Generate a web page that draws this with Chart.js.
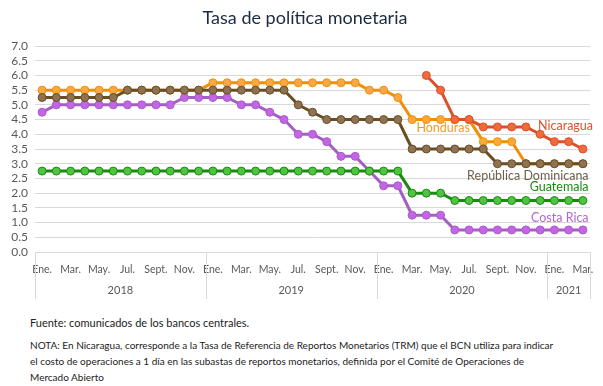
<!DOCTYPE html>
<html lang="es">
<head>
<meta charset="utf-8">
<script src="https://cdn.jsdelivr.net/npm/chart.js@4"></script>
<style>
  body { margin: 0; background: #fff; font-family: "Lato", sans-serif; }
  #wrap { position: relative; width: 603px; height: 302px; }
  #titulo { position: absolute; top: 6px; left: 0; width: 610px; text-align: center;
    font-size: 18px; color: #1B2A41; }
  .nota { margin: 0 0 0 30px; width: 570px; font-size: 10px; color: #222; line-height: 16px; }
  #fuente { margin-top: 13px; margin-bottom: 6px; font-size: 11px; }
</style>
</head>
<body>
<div id="wrap">
  <div id="titulo">Tasa de política monetaria</div>
  <canvas id="myChart" width="603" height="302"></canvas>
</div>
<p class="nota" id="fuente">Fuente: comunicados de los bancos centrales.</p>
<p class="nota">NOTA: En Nicaragua, corresponde a la Tasa de Referencia de Reportos Monetarios (TRM) que el BCN utiliza para indicar<br>el costo de operaciones a 1 día en las subastas de reportos monetarios, definida por el Comité de Operaciones de<br>Mercado Abierto</p>
<script>
const meses = ["Ene.", "Feb.", "Mar.", "Abr.", "May.", "Jun.", "Jul.", "Ago.", "Sept.", "Oct.", "Nov.", "Dic."];
const etiquetas = [...meses, ...meses, ...meses, "Ene.", "Feb.", "Mar."];
const anios = ["2018", "2019", "2020", "2021"];
const inicioAnio = [0, 12, 24, 36, 39];

const honduras = [5.5, 5.5, 5.5, 5.5, 5.5, 5.5, 5.5, 5.5, 5.5, 5.5, 5.5, 5.5,
  5.75, 5.75, 5.75, 5.75, 5.75, 5.75, 5.75, 5.75, 5.75, 5.75, 5.75, 5.5,
  5.5, 5.25, 4.5, 4.5, 4.5, 4.5, 4.5, 3.75, 3.75, 3.75, 3.0, 3.0,
  3.0, 3.0, 3.0];
const repDominicana = [5.25, 5.25, 5.25, 5.25, 5.25, 5.25, 5.5, 5.5, 5.5, 5.5, 5.5, 5.5,
  5.5, 5.5, 5.5, 5.5, 5.5, 5.5, 5.0, 4.75, 4.5, 4.5, 4.5, 4.5,
  4.5, 4.5, 3.5, 3.5, 3.5, 3.5, 3.5, 3.5, 3.0, 3.0, 3.0, 3.0,
  3.0, 3.0, 3.0];
const guatemala = [2.75, 2.75, 2.75, 2.75, 2.75, 2.75, 2.75, 2.75, 2.75, 2.75, 2.75, 2.75,
  2.75, 2.75, 2.75, 2.75, 2.75, 2.75, 2.75, 2.75, 2.75, 2.75, 2.75, 2.75,
  2.75, 2.75, 2.0, 2.0, 2.0, 1.75, 1.75, 1.75, 1.75, 1.75, 1.75, 1.75,
  1.75, 1.75, 1.75];
const costaRica = [4.75, 5.0, 5.0, 5.0, 5.0, 5.0, 5.0, 5.0, 5.0, 5.0, 5.25, 5.25,
  5.25, 5.25, 5.0, 5.0, 4.75, 4.5, 4.0, 4.0, 3.75, 3.25, 3.25, 2.75,
  2.25, 2.25, 1.25, 1.25, 1.25, 0.75, 0.75, 0.75, 0.75, 0.75, 0.75, 0.75,
  0.75, 0.75, 0.75];
const nicaragua = [null, null, null, null, null, null, null, null, null, null, null, null,
  null, null, null, null, null, null, null, null, null, null, null, null,
  null, null, null, 6.0, 5.5, 4.5, 4.5, 4.25, 4.25, 4.25, 4.25, 4.0,
  3.75, 3.75, 3.5];

// nombre de cada serie junto a su linea: [texto, indice, valor, alineacion, color]
const nombres = [
  ["Nicaragua", 34.85, 4.27, "left", "#D9532B"],
  ["Honduras", 26.3, 4.2, "left", "#F39A1E"],
  ["República Dominicana", 38.4, 2.6, "right", "#6E5E4C"],
  ["Guatemala", 38.4, 2.2, "right", "#1A8A12"],
  ["Costa Rica", 38.4, 1.14, "right", "#B366D0"],
];

function serie(label, data, linea, relleno) {
  return {
    label: label,
    data: data,
    borderColor: linea,
    backgroundColor: relleno,
    pointBackgroundColor: relleno,
    pointBorderColor: linea,
    pointBorderWidth: 1,
    pointRadius: 4,
    borderWidth: 3,
    tension: 0,
    spanGaps: false,
  };
}

const pluginExtras = {
  id: "extras",
  afterDraw(chart) {
    const ctx = chart.ctx;
    const x = chart.scales.x;
    const y = chart.scales.y;
    const paso = x.getPixelForValue(1) - x.getPixelForValue(0);
    const abajo = chart.chartArea.bottom;
    ctx.save();
    // separadores de anio
    ctx.strokeStyle = "#D9D9D9";
    ctx.lineWidth = 1;
    for (const i of inicioAnio) {
      const px = Math.round(x.getPixelForValue(i) - paso / 2) + 0.5;
      ctx.beginPath();
      ctx.moveTo(px, abajo);
      ctx.lineTo(px, abajo + 47);
      ctx.stroke();
    }
    ctx.fillStyle = "#595959";
    ctx.font = "11px Lato";
    ctx.textAlign = "center";
    ctx.textBaseline = "middle";
    anios.forEach((a, k) => {
      const ini = x.getPixelForValue(inicioAnio[k]) - paso / 2;
      const fin = x.getPixelForValue(inicioAnio[k + 1]) - paso / 2;
      ctx.fillText(a, (ini + fin) / 2, abajo + 38);
    });
    // nombres de las series
    ctx.font = "12.5px Lato";
    for (const n of nombres) {
      ctx.fillStyle = n[4];
      ctx.textAlign = n[3];
      ctx.fillText(n[0], x.getPixelForValue(n[1]), y.getPixelForValue(n[2]));
    }
    ctx.restore();
  },
};

const grafica = document.getElementById("myChart").getContext("2d");
const myChart = new Chart(grafica, {
  type: "line",
  data: {
    labels: etiquetas,
    datasets: [
      serie("Nicaragua", nicaragua, "#D9502A", "#F06A3C"),
      serie("República Dominicana", repDominicana, "#6A4D22", "#8E7254"),
      serie("Guatemala", guatemala, "#1B8A12", "#4FC441"),
      serie("Costa Rica", costaRica, "#A55EC2", "#C465E8"),
      serie("Honduras", honduras, "#F0900A", "#F8A845"),
    ],
  },
  plugins: [pluginExtras],
  options: {
    responsive: false,
    animation: false,
    layout: { padding: { top: 46, right: 13, left: 0, bottom: 0 } },
    plugins: {
      legend: { display: false },
      tooltip: { enabled: false },
      title: { display: false },
    },
    scales: {
      x: {
        offset: true,
        grid: { display: false },
        border: { display: false },
        ticks: {
          autoSkip: false,
          maxRotation: 0,
          padding: 3,
          color: "#595959",
          font: { family: "Lato", size: 10.5 },
          callback: function (val, i) {
            return i % 2 === 0 ? etiquetas[i] : "";
          },
        },
        afterFit: function (scale) {
          scale.height = 50;
        },
      },
      y: {
        min: 0,
        max: 7,
        grid: { color: "#D9D9D9", drawTicks: false },
        border: { display: false },
        ticks: {
          stepSize: 0.5,
          autoSkip: false,
          padding: 7,
          color: "#595959",
          font: { family: "Lato", size: 12 },
          callback: function (v) {
            return v.toFixed(1);
          },
        },
        afterFit: function (scale) {
          scale.width = 35;
        },
      },
    },
  },
});
</script>
</body>
</html>
